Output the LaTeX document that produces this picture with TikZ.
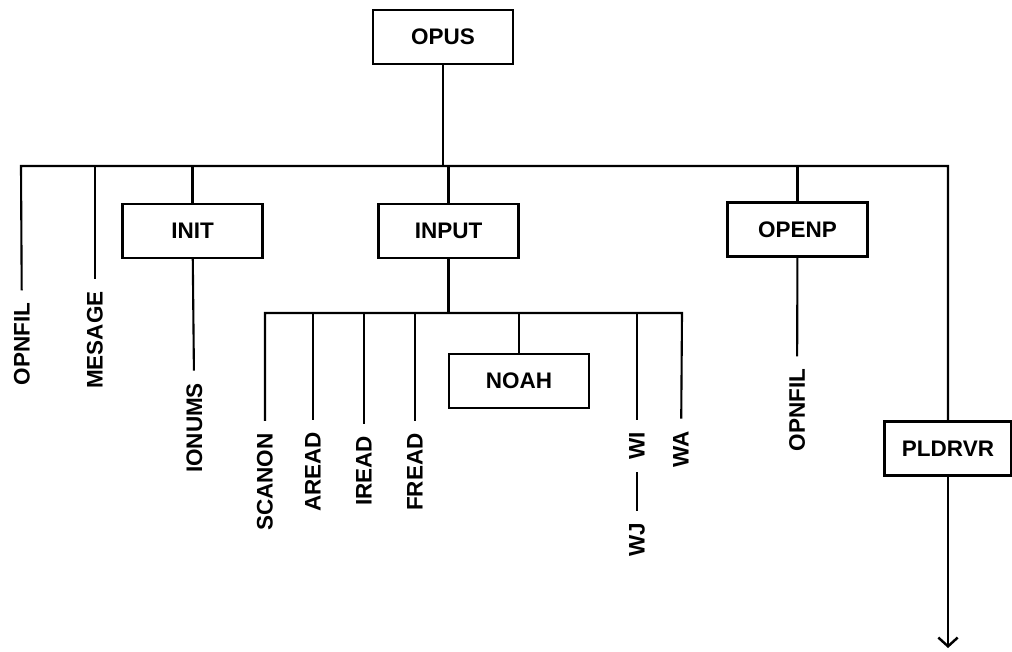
\documentclass[tikz,border=0pt]{standalone}
\usepackage{fontspec}
\setmainfont{Liberation Sans}
\usetikzlibrary{arrows.meta}

\begin{document}
\begin{tikzpicture}[
  every node/.style={font=\fontsize{12.8}{15}\selectfont\bfseries},
  box/.style={rectangle, draw, line width=1.2pt, minimum width=2.8cm, minimum height=1.08cm, inner sep=0pt},
  leaf/.style={rotate=90, inner xsep=0.24cm, inner ysep=0pt},
  link/.style={line width=1.2pt},
  flow/.style={-{Straight Barb[length=5pt, width=11pt, line width=1.4pt]}, line width=1.2pt},
]
  \useasboundingbox (0,0) rectangle (20.24,-13.02);

  \node[box] (opus) at (8.86,-0.74) {OPUS};
  \coordinate (busL) at (0.42,-3.32);
  \coordinate (busR) at (18.96,-3.32);

  \node[box] (init) at (3.85,-4.62) {INIT};
  \node[box] (input) at (8.97,-4.62) {INPUT};
  \node[box] (openp) at (15.95,-4.59) {OPENP};
  \node[box, minimum width=2.54cm] (pldrvr) at (18.96,-8.97) {PLDRVR};

  \node[leaf] (opnfilA) at (0.44,-6.88) {OPNFIL};
  \node[leaf] (mesage) at (1.9,-6.8) {MESAGE};
  \node[leaf] (ionums) at (3.89,-8.56) {IONUMS};
  \node[leaf] (opnfilB) at (15.94,-8.2) {OPNFIL};

  \coordinate (subL) at (5.3,-6.26);
  \coordinate (subR) at (13.64,-6.26);
  \node[leaf] (scanon) at (5.3,-9.64) {SCANON};
  \node[leaf] (aread) at (6.26,-9.44) {AREAD};
  \node[leaf] (iread) at (7.28,-9.42) {IREAD};
  \node[leaf] (fread) at (8.3,-9.44) {FREAD};
  \node[box] (noah) at (10.38,-7.62) {NOAH};
  \node[leaf] (wi) at (12.74,-8.92) {WI};
  \node[leaf] (wj) at (12.74,-10.8) {WJ};
  \node[leaf] (wa) at (13.62,-8.98) {WA};

  \coordinate (out) at (18.96,-12.96);

  % top level
  \draw[link] (opus) -- (opus |- busL);
  \draw[link] (opnfilA) -- (busL) -- (busR) -- (pldrvr);
  \draw[link] (mesage) -- (mesage |- busL);
  \draw[link] (init) -- (init |- busL);
  \draw[link] (input) -- (input |- busL);
  \draw[link] (openp) -- (openp |- busL);

  \draw[link] (init) -- (ionums);
  \draw[link] (openp) -- (opnfilB);

  % below INPUT
  \draw[link] (input) -- (input |- subL);
  \draw[link] (scanon) -- (subL) -- (subR) -- (wa);
  \draw[link] (aread) -- (aread |- subL);
  \draw[link] (iread) -- (iread |- subL);
  \draw[link] (fread) -- (fread |- subL);
  \draw[link] (noah) -- (noah |- subL);
  \draw[link] (wi) -- (wi |- subL);
  \draw[link] (wi) -- (wj);

  \draw[flow] (pldrvr) -- (out);
\end{tikzpicture}
\end{document}
